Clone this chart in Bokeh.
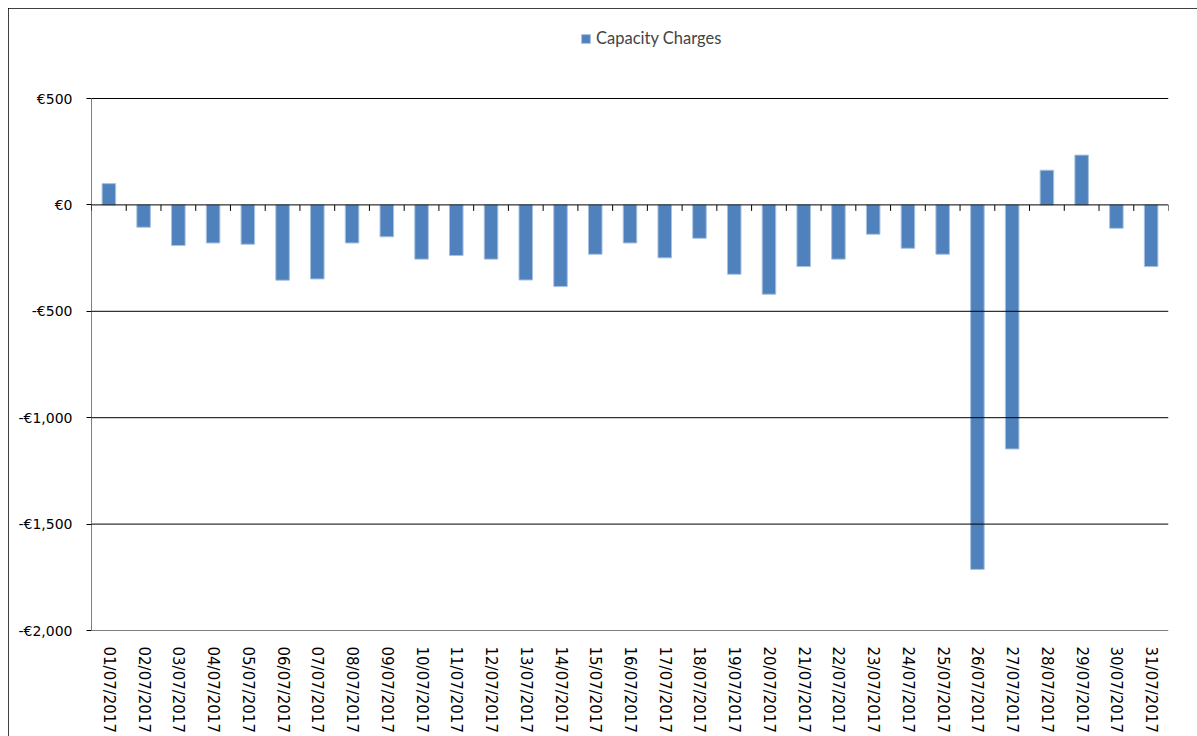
import math
from bokeh.plotting import figure
from bokeh.models import ColumnDataSource, FixedTicker, Legend, LegendItem, Span
from bokeh.transform import dodge
from bokeh.embed import file_html
from bokeh.resources import INLINE

dates = ["%02d/07/2017" % d for d in range(1, 32)]
charges = [100, -105, -191, -179, -185, -354, -348, -179, -150, -255,
           -238, -255, -353, -384, -232, -179, -249, -157, -326, -420,
           -290, -255, -138, -204, -232, -1713, -1147, 163, 234, -110, -290]
y_ticks = [500, 0, -500, -1000, -1500, -2000]
y_tick_labels = ["€500", "€0", "-€500", "-€1,000", "-€1,500", "-€2,000"]
series_name = "Capacity Charges"

src = ColumnDataSource(dict(date=dates, value=charges))

# frame extends above the €500 line to hold the legend (Excel-style chart area)
y_lo, y_hi = min(y_ticks), max(y_ticks)
frame_h = 620
px_per_unit = 532 / (y_hi - y_lo)
y_top = y_lo + frame_h / px_per_unit

p = figure(x_range=dates, y_range=(y_lo, y_top), width=1189, height=728,
           output_backend="svg", toolbar_location=None,
           min_border_left=83, min_border_right=29, min_border_top=2, min_border_bottom=106)
p.styles = {"outline": "1px solid #000000", "outline-offset": "-1px",
            "margin-left": "8px", "margin-top": "8px"}
p.outline_line_color = None
p.background_fill_color = "white"
p.border_fill_color = "white"

# horizontal gridlines
p.ygrid.grid_line_color = None
p.xgrid.grid_line_color = None
for t in y_ticks:
    p.add_layout(Span(location=t, dimension="width", line_color="#000000", line_width=1))

# value axis line (only between the extreme ticks)
first = ColumnDataSource(dict(date=dates[:1], lo=[y_lo], hi=[y_hi]))
p.segment(x0=dodge("date", -0.5, range=p.x_range), y0="lo",
          x1=dodge("date", -0.5, range=p.x_range), y1="hi",
          source=first, line_color="#000000", line_width=1)

bars = p.vbar(x="date", top="value", width=0.39, source=src,
              fill_color="#4F81BD", line_color="#A9C2E0", line_width=1)

# category separator ticks along the zero line
p.ray(x=dodge("date", 0.5, range=p.x_range), y=0, length=6, length_units="screen",
      angle=-math.pi / 2, source=src, line_color="#000000", line_width=1)
p.ray(x=dodge("date", -0.5, range=p.x_range), y=0, length=6, length_units="screen",
      angle=-math.pi / 2, source=first, line_color="#000000", line_width=1)

ya = p.yaxis[0]
ya.ticker = FixedTicker(ticks=y_ticks)
ya.major_label_overrides = {t: l for t, l in zip(y_ticks, y_tick_labels)}
ya.axis_line_color = None
ya.major_tick_in = 0
ya.major_tick_out = 5
ya.major_tick_line_color = "#000000"
ya.minor_tick_line_color = None
ya.major_label_standoff = 14
ya.major_label_text_font = "DejaVu Sans"
ya.major_label_text_font_size = "14px"
ya.major_label_text_color = "#000000"

xa = p.xaxis[0]
xa.axis_line_color = None
xa.major_tick_line_color = None
xa.minor_tick_line_color = None
xa.major_label_orientation = "vertical"
xa.major_label_standoff = 10
xa.major_label_text_font = "DejaVu Sans"
xa.major_label_text_font_size = "15px"
xa.major_label_text_color = "#000000"

legend = Legend(items=[LegendItem(label=series_name, renderers=[bars])],
                location=(489, 582), orientation="horizontal",
                label_text_font="Lato", label_text_font_size="16.5px",
                glyph_width=11, glyph_height=11, label_height=11, label_standoff=5,
                padding=0, margin=0, border_line_color=None,
                background_fill_alpha=0)
p.add_layout(legend, "center")

open("out.html", "w").write(file_html(p, INLINE))
